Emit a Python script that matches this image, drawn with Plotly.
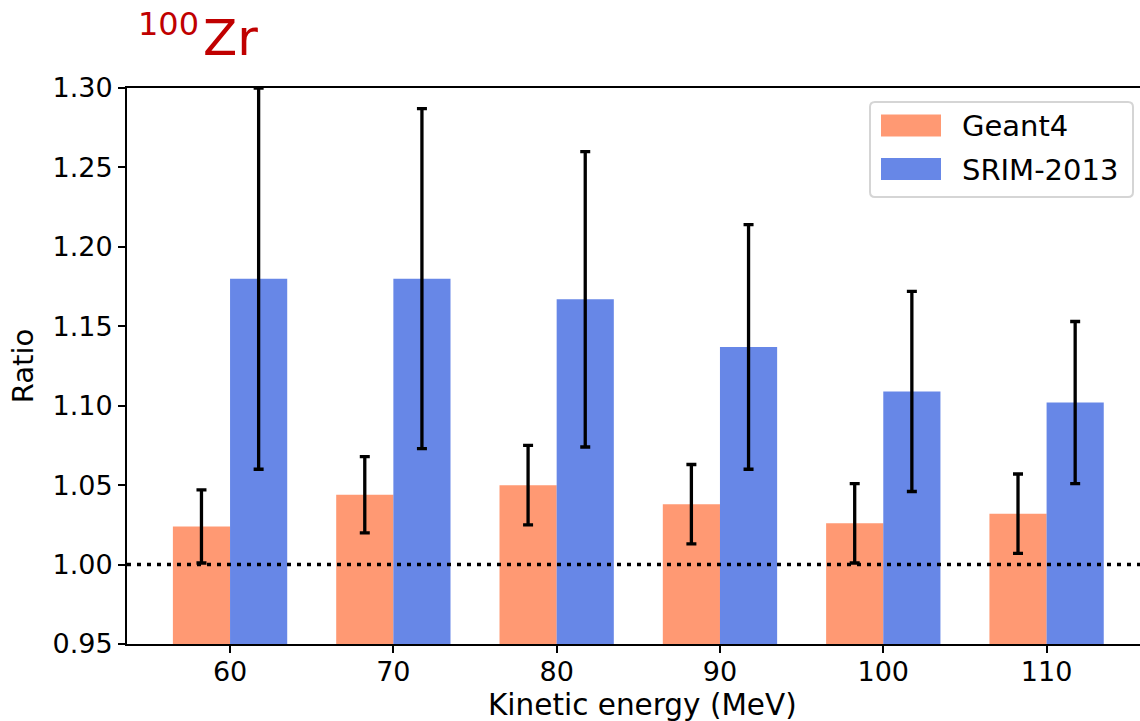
import plotly.graph_objects as go

# Kinetic energies (MeV) and ratio values per model
energies = [60, 70, 80, 90, 100, 110]
geant4_ratio = [1.024, 1.044, 1.050, 1.038, 1.026, 1.032]
geant4_err = [0.023, 0.024, 0.025, 0.025, 0.025, 0.025]
srim_ratio = [1.180, 1.180, 1.167, 1.137, 1.109, 1.102]
srim_err = [0.120, 0.107, 0.093, 0.077, 0.063, 0.051]
y_ticks = [0.95, 1.00, 1.05, 1.10, 1.15, 1.20, 1.25, 1.30]

series_names = ["Geant4", "SRIM-2013"]
series_colors = ["rgba(255,127,80,0.8)", "rgba(65,105,225,0.8)"]

FONT = "DejaVu Sans"
W, H = 1140, 721
ML, MT, MB, MR = 127, 88, 77, 0

fig = go.Figure()
for name, vals, errs, col in zip(series_names, [geant4_ratio, srim_ratio],
                                 [geant4_err, srim_err], series_colors):
    fig.add_trace(go.Bar(
        x=energies, y=vals, name=name,
        marker=dict(color=col, line=dict(width=0)),
        error_y=dict(type="data", array=errs, visible=True,
                     color="black", thickness=3.3, width=5),
        showlegend=False,
    ))

# reference line at ratio = 1
fig.add_shape(type="line", xref="paper", yref="y", x0=0, x1=1, y0=1.0, y1=1.0,
              line=dict(color="black", width=3.6, dash="4px,6px"), layer="above")

# legend box drawn in paper coordinates
pw = W - ML - MR
ph = H - MT - MB
def px_x(px):
    return (px - ML) / pw
def px_y(py):
    return (H - MB - py) / ph

bx0, bx1 = px_x(870), px_x(1133)
by0, by1 = px_y(197), px_y(102)
rx, ry = 5 / pw, 5 / ph
path = (f"M {bx0+rx},{by1} L {bx1-rx},{by1} Q {bx1},{by1} {bx1},{by1-ry} "
        f"L {bx1},{by0+ry} Q {bx1},{by0} {bx1-rx},{by0} L {bx0+rx},{by0} "
        f"Q {bx0},{by0} {bx0},{by0+ry} L {bx0},{by1-ry} Q {bx0},{by1} {bx0+rx},{by1} Z")
fig.add_shape(type="path", xref="paper", yref="paper", path=path,
              line=dict(color="#d5d5d5", width=2), fillcolor="rgba(255,255,255,0.8)",
              layer="above")

legend_rows = [(114.5, 136.5, 126), (158, 180, 169.5)]
for (top, bot, mid), name, col in zip(legend_rows, series_names, series_colors):
    fig.add_shape(type="rect", xref="paper", yref="paper",
                  x0=px_x(881), x1=px_x(941), y0=px_y(bot), y1=px_y(top),
                  fillcolor=col, line=dict(width=0), layer="above")
    fig.add_annotation(xref="paper", yref="paper", x=px_x(960), y=px_y(mid),
                       text=name, showarrow=False, xanchor="left", yanchor="middle",
                       font=dict(family=FONT, size=29, color="black"))

# nuclide label above the axes: mass number as a raised prefix, then the symbol
fig.add_annotation(xref="paper", yref="paper", x=px_x(136), y=px_y(24),
                   text="100", showarrow=False,
                   xanchor="left", yanchor="middle",
                   font=dict(family=FONT, size=32, color="#C00000"))
fig.add_annotation(xref="paper", yref="paper", x=px_x(201), y=px_y(38),
                   text="Zr", showarrow=False,
                   xanchor="left", yanchor="middle",
                   font=dict(family=FONT, size=50, color="#C00000"))

# x-axis title, centred on the full axes span
fig.add_annotation(xref="paper", yref="paper", x=px_x(642), y=px_y(705),
                   text="Kinetic energy (MeV)", showarrow=False,
                   xanchor="center", yanchor="middle",
                   font=dict(family=FONT, size=29.5, color="black"))

fig.update_layout(
    width=W, height=H,
    margin=dict(l=ML, r=MR, t=MT, b=MB, pad=0),
    paper_bgcolor="white", plot_bgcolor="white",
    barmode="group", bargap=0.3, bargroupgap=0,
    font=dict(family=FONT, size=29, color="black"),
    xaxis=dict(
        range=[53.69, 115.72], tickmode="array", tickvals=energies,
        ticktext=[str(e) for e in energies],
        showline=True, linecolor="black", linewidth=2, mirror=True,
        ticks="outside", ticklen=7, tickwidth=1.6, tickcolor="black",
        ticklabelstandoff=-4,
        showgrid=False, zeroline=False,
        tickfont=dict(family=FONT, size=27),
    ),
    yaxis=dict(
        range=[0.95, 1.30], tickmode="array", tickvals=y_ticks,
        ticktext=[f"{v:.2f}" for v in y_ticks],
        showline=True, linecolor="black", linewidth=2, mirror=False,
        ticks="outside", ticklen=7, tickwidth=1.6, tickcolor="black",
        showgrid=False, zeroline=False,
        tickfont=dict(family=FONT, size=27),
        title=dict(text="Ratio", standoff=10,
                   font=dict(family=FONT, size=29)),
    ),
)

fig.write_html("out.html")
